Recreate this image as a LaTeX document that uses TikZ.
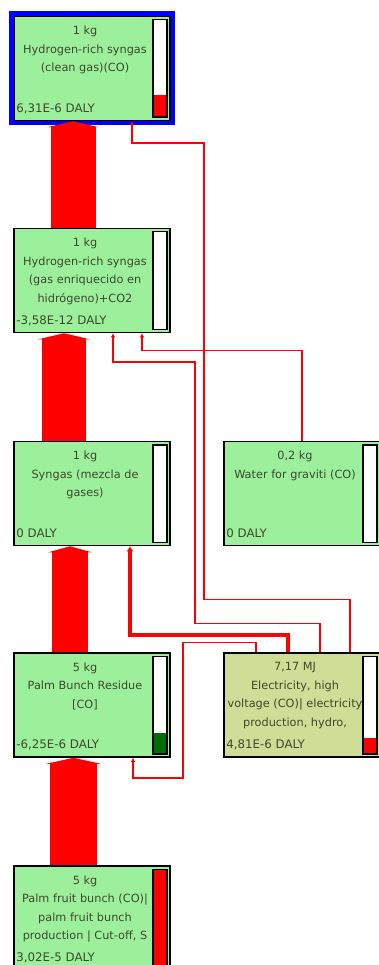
\documentclass[tikz,border=0pt]{standalone}
\usepackage{fontspec}
\setmainfont{DejaVu Sans}
\usepackage{xcolor}
\definecolor{procgreen}{RGB}{156, 240, 156}
\definecolor{elecfill}{RGB}{206, 222, 150}
\definecolor{labelink}{RGB}{62, 72, 44}
\definecolor{flowred}{RGB}{255, 0, 0}
\definecolor{scoregreen}{RGB}{0, 110, 0}
\usetikzlibrary{arrows.meta,positioning}

\begin{document}
\begin{tikzpicture}[x=1pt, y=-1pt,
  procbox/.style={draw=black, fill=procgreen, line width=1.5pt, minimum width=156pt, minimum height=104pt, inner sep=0pt},
  caption/.style={anchor=north, align=center, inner sep=0pt, text=labelink, font=\fontsize{11.3}{18.5}\selectfont},
  score/.style={anchor=base west, inner sep=0pt, text=labelink, font=\fontsize{11.8}{13}\selectfont},
  gauge/.style={draw=black, line width=1.5pt},
  flow/.style={draw=flowred, -{Triangle[length=6pt, width=7pt 1]}},
  link/.style={draw=flowred, line width=1.2pt, -{Latex[length=4pt, width=4.5pt]}},
  hilite/.style={draw=blue, line width=4.5pt}
]
\useasboundingbox (0,0) rectangle (379,965);
\clip (0,0) rectangle (379,965);

\node[procbox] (clean) at (92, 68.5) {};
\node[procbox] (enriched) at (92, 280.5) {};
\node[procbox] (syngas) at (92, 493.5) {};
\node[procbox] (water) at (302, 493.5) {};
\node[procbox] (residue) at (92, 705) {};
\node[procbox, fill=elecfill] (elec) at (302, 705) {};
\node[procbox] (fruit) at (92, 918) {};

\draw[hilite] ([xshift=-2pt,yshift=2pt]clean.north west) rectangle ([xshift=2pt,yshift=-2pt]clean.south east);

% Texts
\node[caption] (cleantxt) at ([xshift=-7pt,yshift=-10pt]clean.north) {1 kg\\Hydrogen-rich syngas\\(clean gas)(CO)};
\node[caption] (enrichedtxt) at ([xshift=-7pt,yshift=-10pt]enriched.north) {1 kg\\Hydrogen-rich syngas\\(gas enriquecido en\\hidrógeno)+CO2};
\node[caption] (syngastxt) at ([xshift=-7pt,yshift=-10pt]syngas.north) {1 kg\\Syngas (mezcla de\\gases)};
\node[caption] (watertxt) at ([xshift=-7pt,yshift=-10pt]water.north) {0,2 kg\\Water for graviti (CO)};
\node[caption] (residuetxt) at ([xshift=-7pt,yshift=-10pt]residue.north) {5 kg\\Palm Bunch Residue\\{[CO]}};
\node[caption] (electxt) at ([xshift=-7pt,yshift=-10pt]elec.north) {7,17 MJ\\Electricity, high\\voltage (CO)| electricity\\production, hydro,};
\node[caption] (fruittxt) at ([xshift=-7pt,yshift=-10pt]fruit.north) {5 kg\\Palm fruit bunch (CO)|\\palm fruit bunch\\production | Cut-off, S};

\node[score] (cleanval) at ([xshift=3pt,yshift=9pt]clean.south west) {6,31E-6 DALY};
\node[score] (enrichedval) at ([xshift=3pt,yshift=9pt]enriched.south west) {-3,58E-12 DALY};
\node[score] (syngasval) at ([xshift=3pt,yshift=9pt]syngas.south west) {0 DALY};
\node[score] (waterval) at ([xshift=3pt,yshift=9pt]water.south west) {0 DALY};
\node[score] (residueval) at ([xshift=3pt,yshift=9pt]residue.south west) {-6,25E-6 DALY};
\node[score] (elecval) at ([xshift=3pt,yshift=9pt]elec.south west) {4,81E-6 DALY};
\node[score] (fruitval) at ([xshift=3pt,yshift=9pt]fruit.south west) {3,02E-5 DALY};

% Score gauges
\fill[white] ([xshift=-18pt,yshift=-4pt]clean.north east) rectangle ([xshift=-4pt,yshift=4pt]clean.south east);
\fill[flowred] ([xshift=-18pt,yshift=4pt]clean.south east) rectangle ([xshift=-4pt,yshift=26pt]clean.south east);
\fill[scoregreen] ([xshift=-18pt,yshift=4pt]residue.south east) rectangle ([xshift=-4pt,yshift=25pt]residue.south east);
\fill[white] ([xshift=-18pt,yshift=-4pt]residue.north east) rectangle ([xshift=-4pt,yshift=25pt]residue.south east);
\fill[flowred] ([xshift=-18pt,yshift=4pt]elec.south east) rectangle ([xshift=-4pt,yshift=20pt]elec.south east);
\fill[white] ([xshift=-18pt,yshift=-4pt]elec.north east) rectangle ([xshift=-4pt,yshift=20pt]elec.south east);
\fill[flowred] ([xshift=-18pt,yshift=-4pt]fruit.north east) rectangle ([xshift=-4pt,yshift=4pt]fruit.south east);
\foreach \b in {enriched, syngas, water} {
  \fill[white] ([xshift=-18pt,yshift=-4pt]\b.north east) rectangle ([xshift=-4pt,yshift=4pt]\b.south east);
}
\foreach \b in {clean, enriched, syngas, water, residue, elec, fruit} {
  \draw[gauge] ([xshift=-18pt,yshift=-4pt]\b.north east) rectangle ([xshift=-4pt,yshift=4pt]\b.south east);
}

% Main mass flows
\draw[flow, line width=47pt] ([xshift=-18.5pt]fruit.north) -- ([xshift=-18.5pt]residue.south);
\draw[flow, line width=36pt] ([xshift=-22pt]residue.north) -- ([xshift=-22pt]syngas.south);
\draw[flow, line width=44pt] ([xshift=-28pt]syngas.north) -- ([xshift=-28pt]enriched.south);
\draw[flow, line width=45pt] ([xshift=-19pt]enriched.north) -- ([xshift=-19pt]clean.south);

% Electricity and water supply lines
\draw[link, line width=4pt, -{Latex[length=5pt, width=7pt]}] ([xshift=-14pt]elec.north) -- ++(0,-17) -| ([xshift=38pt]syngas.south);
\draw[link] ([xshift=48pt]elec.north) -- ++(0,-53) -| (204,143) -| ([xshift=40pt]clean.south);
\draw[link] ([xshift=18pt]elec.north) -- ++(0,-29) -| (195,362) -| ([xshift=21pt]enriched.south);
\draw[link] (water.north) -- ++(0,-90) -| ([xshift=50pt]enriched.south);
\draw[link] ([xshift=-46pt]elec.north) -- ++(0,-10) -| (183,778) -| ([xshift=41pt]residue.south);
\end{tikzpicture}
\end{document}
